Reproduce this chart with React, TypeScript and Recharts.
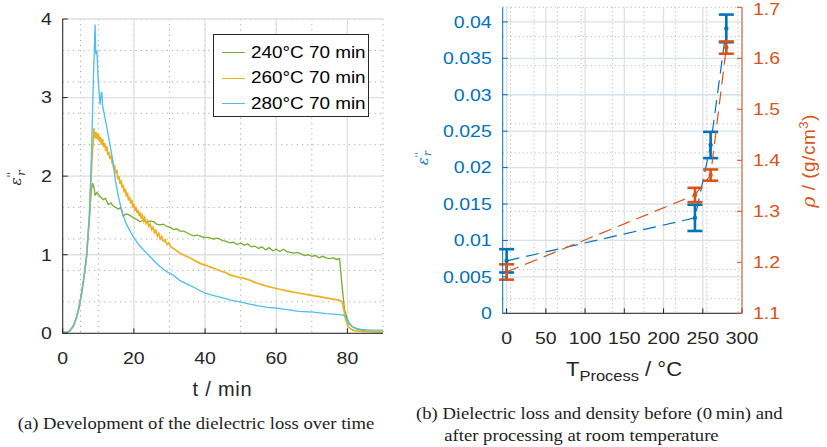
import React from 'react';
import { LineChart, Line, XAxis, YAxis, CartesianGrid, ErrorBar } from 'recharts';

// (a) dielectric loss over time, [t / min, eps'']
const loss240: [number, number][] = [
  [0, 0.01], [1, 0.01], [2, 0.03], [3, 0.09], [3.9, 0.2], [4.6, 0.33], [5.3, 0.51], [6, 0.72],
  [6.7, 0.98], [7.5, 1.45], [8, 1.8], [8.4, 1.91], [8.8, 1.85], [9.1, 1.76], [9.6, 1.79], [10.5, 1.74],
  [11.4, 1.7], [12, 1.72], [12.8, 1.64], [13.5, 1.66], [14.2, 1.62], [15, 1.6], [15.6, 1.58], [16.3, 1.6],
  [17, 1.49], [17.8, 1.52], [18.9, 1.5], [19.8, 1.47], [20.8, 1.45], [21.7, 1.42], [22.6, 1.44], [23.5, 1.41],
  [24.5, 1.43], [25.5, 1.42], [26.4, 1.39], [27.3, 1.38], [28.3, 1.39], [29.2, 1.36], [30.2, 1.35], [31.1, 1.32],
  [32, 1.33], [33, 1.3], [34, 1.3], [35.3, 1.27], [36.7, 1.24], [38, 1.25], [39.5, 1.22], [41, 1.22],
  [42.3, 1.2], [43.5, 1.21], [45, 1.18], [46, 1.17], [47, 1.15], [48, 1.16], [49, 1.13], [50, 1.15],
  [51, 1.12], [52, 1.14], [53, 1.1], [54, 1.11], [55, 1.08], [56, 1.1], [57, 1.06], [58, 1.09],
  [59, 1.05], [60, 1.07], [61, 1.04], [62, 1.07], [63, 1.04], [64, 1.03], [65, 1.02], [66, 1.03],
  [67, 1.01], [68, 0.99], [69, 1.0], [70, 0.98], [71, 0.99], [72, 0.96], [73, 0.98], [74, 0.96],
  [75, 0.95], [76, 0.96], [77, 0.94], [77.8, 0.95], [78.5, 0.6], [79.2, 0.3], [80, 0.18], [80.5, 0.13],
  [81.5, 0.08], [83, 0.05], [85, 0.03], [88, 0.02], [90, 0.02],
];

const loss260: [number, number][] = [
  [0, 0.01], [1, 0.01], [2, 0.03], [3, 0.09], [3.9, 0.2], [4.6, 0.33], [5.3, 0.5], [6, 0.72],
  [6.7, 0.98], [7.5, 1.5], [8.2, 2.2], [8.8, 2.61], [9.1, 2.48], [9.4, 2.56], [9.7, 2.47], [10, 2.54],
  [10.3, 2.44], [10.6, 2.5], [10.9, 2.4], [11.2, 2.47], [11.5, 2.37], [11.8, 2.42], [12.1, 2.32], [12.4, 2.38],
  [12.7, 2.27], [13, 2.31], [13.3, 2.22], [13.6, 2.26], [13.9, 2.16], [14, 2.19], [14.3, 2.11], [14.6, 2.13],
  [14.9, 2.04], [15.2, 2.08], [15.5, 1.96], [15.8, 2.0], [16.1, 1.9], [16.4, 1.95], [16.7, 1.85], [17, 1.89],
  [17.3, 1.79], [17.6, 1.84], [17.9, 1.74], [18.2, 1.79], [18.5, 1.69], [18.8, 1.74], [19.1, 1.65], [19.4, 1.7],
  [19.7, 1.6], [20, 1.65], [20.3, 1.56], [20.6, 1.61], [20.9, 1.53], [21.2, 1.57], [21.5, 1.49], [21.8, 1.54],
  [22.1, 1.46], [22.4, 1.5], [22.7, 1.43], [23, 1.47], [23.4, 1.4], [23.8, 1.43], [24.2, 1.36], [24.6, 1.39],
  [25, 1.32], [25.4, 1.35], [25.8, 1.28], [26.2, 1.31], [26.6, 1.24], [27, 1.27], [27.4, 1.2], [27.8, 1.23],
  [28.3, 1.17], [28.8, 1.19], [29.3, 1.13], [29.8, 1.15], [30.4, 1.1], [31.1, 1.08], [32, 1.05], [33, 1.02],
  [34.2, 0.99], [35.3, 0.97], [37, 0.93], [38.6, 0.89], [40.5, 0.86], [42.3, 0.83], [44.5, 0.79], [46, 0.77],
  [47, 0.74], [49, 0.72], [51.7, 0.69], [54.5, 0.64], [57.3, 0.6], [60, 0.57], [63, 0.54], [66.5, 0.51],
  [70.4, 0.48], [74, 0.45], [77.9, 0.42], [78.5, 0.4], [79, 0.3], [79.5, 0.18], [80.3, 0.08], [81.5, 0.04],
  [82.6, 0.03], [85, 0.02], [90, 0.02],
];

const loss280: [number, number][] = [
  [0, 0.01], [1, 0.01], [2, 0.03], [3, 0.1], [3.9, 0.21], [4.6, 0.34], [5.3, 0.51], [6, 0.72],
  [6.7, 0.98], [7.5, 1.5], [8.1, 2.3], [8.6, 3.2], [9.1, 3.93], [9.3, 3.55], [9.6, 3.6], [10, 3.2],
  [10.5, 2.91], [10.8, 3.05], [11, 3.07], [11.2, 2.9], [12.4, 2.62], [13.2, 2.42], [14, 2.22], [14.8, 1.95],
  [15.6, 1.75], [16.3, 1.62], [17, 1.5], [18, 1.38], [19.8, 1.23], [21.5, 1.12], [23.6, 1.02], [25.5, 0.93],
  [27.3, 0.85], [29, 0.79], [31.1, 0.74], [33, 0.67], [35.3, 0.62], [37.5, 0.57], [40, 0.51], [42.5, 0.48],
  [45, 0.45], [47.5, 0.42], [49.8, 0.4], [52.5, 0.37], [55, 0.35], [57.5, 0.33], [60.1, 0.32], [63, 0.3],
  [66.5, 0.28], [70.4, 0.27], [74, 0.25], [77, 0.24], [78.9, 0.23], [79.6, 0.2], [80.3, 0.13], [81.2, 0.09],
  [82.6, 0.06], [84, 0.05], [86, 0.04], [90, 0.04],
];

const timeTicks = [0, 20, 40, 60, 80];
const lossTicks = [0, 1, 2, 3, 4];

// (b) dielectric loss and density vs. process temperature
const processTemps = [0, 240, 260, 280];
const epsMean = [0.0072, 0.0131, 0.0231, 0.0391];
const epsStd = [0.0016, 0.0018, 0.0018, 0.0019];
const rhoMean = [1.181, 1.332, 1.371, 1.621];
const rhoStd = [0.015, 0.014, 0.011, 0.012];

const tempTicks = [0, 50, 100, 150, 200, 250, 300];
const epsTicks = [0, 0.005, 0.01, 0.015, 0.02, 0.025, 0.03, 0.035, 0.04];
const rhoTicks = [1.1, 1.2, 1.3, 1.4, 1.5, 1.6, 1.7];

const GREEN = '#77AC30';
const YELLOW = '#EDB120';
const CYAN = '#4DBEEE';
const BLUE = '#0072BD';
const RED = '#D95319';
const INK = '#262626';
const FONT = '"Liberation Sans", Arial, sans-serif';
const SX = 1.18; // the source figure is a bit wider than tall

const series = [
  { name: '240°C 70 min', color: GREEN, width: 1.3, rows: loss240 },
  { name: '260°C 70 min', color: YELLOW, width: 1.7, rows: loss260 },
  { name: '280°C 70 min', color: CYAN, width: 1.3, rows: loss280 },
];

const steps = (from: number, to: number, step: number) => {
  const out: number[] = [];
  for (let i = 0; from + i * step <= to + 1e-9; i++) out.push(+(from + i * step).toFixed(6));
  return out;
};

const toPoints = (rows: [number, number][]) => rows.map(([t, v]) => ({ t, v }));

const pointsB = processTemps.map((T, i) => ({
  T,
  eps: epsMean[i],
  epsErr: epsStd[i],
  rho: rhoMean[i],
  rhoErr: rhoStd[i],
}));

const tick = (color: string) => (p: any) => {
  const dy = p.verticalAnchor === 'start' ? '0.71em' : '0.355em';
  return (
    <text
      transform={`translate(${p.x},${p.y}) scale(${SX},1)`}
      textAnchor={p.textAnchor}
      dy={dy}
      fill={color}
      fontSize={16.5}
      fontFamily={FONT}
    >
      {p.payload.value}
    </text>
  );
};

const LegendBox = () => (
  <div
    style={{
      position: 'absolute',
      left: 212.7,
      top: 34.3,
      width: 154,
      height: 76,
      paddingTop: 5,
      border: `1px solid ${INK}`,
      background: '#fff',
    }}
  >
    {series.map((s) => (
      <div key={s.name} style={{ display: 'flex', alignItems: 'center', height: 25.3 }}>
        <span style={{ display: 'inline-block', width: 23, borderTop: `1.3px solid ${s.color}`, marginLeft: 8, marginRight: 6 }} />
        <span style={{ fontSize: 16, color: '#000', transform: `scaleX(${SX})`, transformOrigin: 'left center', whiteSpace: 'nowrap' }}>{s.name}</span>
      </div>
    ))}
  </div>
);

const EpsLabel = ({ color, size }: { color: string; size: number }) => (
  <span style={{ fontFamily: '"DejaVu Serif", serif', fontStyle: 'italic', fontSize: size, color }}>
    ε<sup style={{ fontSize: size * 0.7, fontStyle: 'normal' }}>''</sup>
    <sub style={{ fontSize: size * 0.75, marginLeft: -4 }}>r</sub>
  </span>
);

export default function App() {
  return (
    <div style={{ position: 'absolute', left: 0, top: 0, width: 827, height: 447, background: '#fff', fontFamily: FONT }}>
      {/* (a) */}
      <div style={{ position: 'absolute', left: 0, top: 0 }}>
        <LineChart width={400} height={400} margin={{ top: 19, right: 17, bottom: 16.7, left: 0 }}>
          <CartesianGrid xAxisId="b" yAxisId="l" horizontalValues={steps(0, 4, 0.2)} verticalValues={steps(0, 90, 5)} stroke="#a8a8a8" strokeDasharray="1.2 4" />
          <CartesianGrid xAxisId="b" yAxisId="l" horizontalValues={lossTicks} verticalValues={timeTicks} stroke="#e0e0e0" strokeWidth={1.3} />
          <XAxis xAxisId="b" type="number" dataKey="t" domain={[0, 90]} ticks={timeTicks} height={50} tickSize={-5} tickMargin={24} stroke={INK} tick={tick(INK)} allowDataOverflow />
          <XAxis xAxisId="t" orientation="top" type="number" dataKey="t" domain={[0, 90]} ticks={timeTicks} height={0} tickSize={-5} stroke={INK} tick={false} allowDataOverflow />
          <YAxis yAxisId="l" type="number" domain={[0, 4]} ticks={lossTicks} width={62.7} tickSize={-5} tickMargin={16} stroke={INK} tick={tick(INK)} allowDataOverflow />
          <YAxis yAxisId="r" orientation="right" type="number" domain={[0, 4]} ticks={lossTicks} width={0} tickSize={-5} stroke={INK} tick={false} allowDataOverflow />
          {series.map((s) => (
            <Line key={s.name} xAxisId="b" yAxisId="l" data={toPoints(s.rows)} dataKey="v" name={s.name} stroke={s.color} strokeWidth={s.width} dot={false} isAnimationActive={false} />
          ))}
        </LineChart>
      </div>
      <LegendBox />
      <div style={{ position: 'absolute', left: 16, top: 178, transform: 'translate(-50%, -50%) rotate(-90deg)', whiteSpace: 'nowrap' }}>
        <EpsLabel color={INK} size={15} />
      </div>
      <div style={{ position: 'absolute', left: 222.5, top: 389, transform: 'translate(-50%, -50%)', fontSize: 20, color: INK, letterSpacing: 0.8, whiteSpace: 'nowrap' }}>
        t / min
      </div>
      <div style={{ position: 'absolute', left: 196, top: 424, transform: `translate(-50%, -50%) scaleX(${SX})`, fontFamily: '"Liberation Serif", serif', fontSize: 15.8, color: '#222', whiteSpace: 'nowrap' }}>
        (a) Development of the dielectric loss over time
      </div>

      {/* (b) */}
      <div style={{ position: 'absolute', left: 410, top: 0 }}>
        <LineChart width={417} height={400} data={pointsB} margin={{ top: 7.3, right: 0, bottom: 36.7, left: 0 }}>
          <CartesianGrid xAxisId="b" yAxisId="eps" horizontalValues={steps(0, 0.042, 0.001)} verticalValues={steps(-5, 300, 10)} stroke="#9fb0c0" strokeDasharray="1 3" />
          <CartesianGrid xAxisId="b" yAxisId="eps" horizontal={false} verticalValues={tempTicks} stroke="#e0e0e0" strokeWidth={1.3} />
          <CartesianGrid xAxisId="b" yAxisId="eps" vertical={false} horizontalValues={epsTicks} stroke="#d3e2ee" strokeWidth={1.3} />
          <XAxis xAxisId="b" type="number" dataKey="T" domain={[-5, 300]} ticks={tempTicks} height={50} tickSize={-5} tickMargin={24} stroke={INK} tick={tick(INK)} allowDataOverflow />
          <XAxis xAxisId="t" orientation="top" type="number" dataKey="T" domain={[-5, 300]} ticks={tempTicks} height={0} tickSize={-5} stroke={INK} tick={false} allowDataOverflow />
          <YAxis yAxisId="eps" type="number" domain={[0, 0.042]} ticks={epsTicks} width={92.7} tickSize={-5} tickMargin={16} stroke={BLUE} tick={tick(BLUE)} allowDataOverflow />
          <YAxis yAxisId="rho" orientation="right" type="number" domain={[1.1, 1.7]} ticks={rhoTicks} width={85} tickSize={-5} tickMargin={16} stroke={RED} tick={tick(RED)} allowDataOverflow />
          <Line xAxisId="b" yAxisId="eps" dataKey="eps" stroke={BLUE} strokeWidth={1.2} strokeDasharray="13 7" dot={{ r: 2.2, fill: BLUE, stroke: BLUE, strokeWidth: 0 }} isAnimationActive={false}>
            <ErrorBar dataKey="epsErr" width={7.5} stroke={BLUE} strokeWidth={2.6} direction="y" />
          </Line>
          <Line xAxisId="b" yAxisId="rho" dataKey="rho" stroke={RED} strokeWidth={1.2} strokeDasharray="13 7" dot={{ r: 2.2, fill: RED, stroke: RED, strokeWidth: 0 }} isAnimationActive={false}>
            <ErrorBar dataKey="rhoErr" width={7.5} stroke={RED} strokeWidth={2.6} direction="y" />
          </Line>
        </LineChart>
      </div>
      <div style={{ position: 'absolute', left: 423, top: 158, transform: 'translate(-50%, -50%) rotate(-90deg)', whiteSpace: 'nowrap' }}>
        <EpsLabel color={BLUE} size={14} />
      </div>
      <div style={{ position: 'absolute', left: 808, top: 161, transform: 'translate(-50%, -50%) rotate(-90deg)', fontSize: 19, color: RED, whiteSpace: 'nowrap', letterSpacing: 0.5 }}>
        <i style={{ fontFamily: '"DejaVu Serif", serif' }}>ρ</i> / (g/cm<sup style={{ fontSize: 13 }}>3</sup>)
      </div>
      <div style={{ position: 'absolute', left: 624, top: 371, transform: `translate(-50%, -50%) scaleX(1.1)`, fontSize: 20, color: INK, whiteSpace: 'nowrap' }}>
        T<sub style={{ fontSize: 15 }}>Process</sub> / °C
      </div>
      <div style={{ position: 'absolute', left: 416, top: 403, transform: `scaleX(${SX})`, transformOrigin: 'left top', fontFamily: '"Liberation Serif", serif', fontSize: 15.8, color: '#222', lineHeight: '21.7px', whiteSpace: 'nowrap' }}>
        <div>(b) Dielectric loss and density before (0&#8201;min) and</div>
        <div style={{ paddingLeft: 24 }}>after processing at room temperature</div>
      </div>
    </div>
  );
}
